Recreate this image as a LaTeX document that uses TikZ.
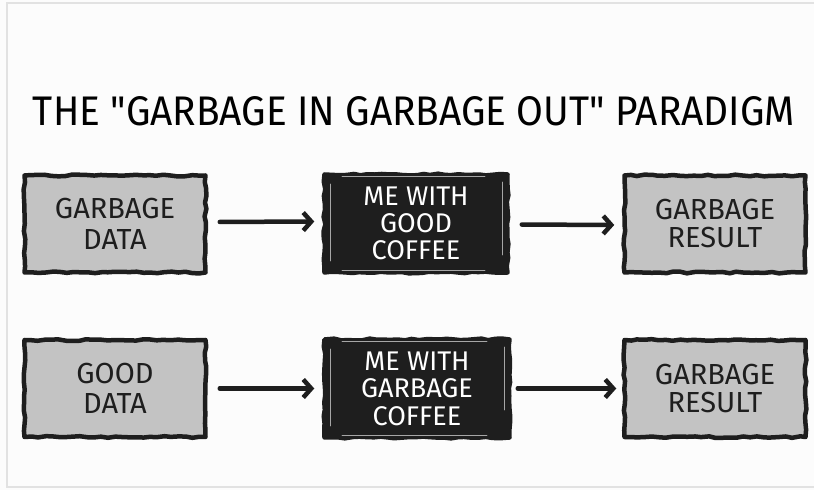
\documentclass[tikz,border=0pt]{standalone}
\usepackage{fontspec}
\setmainfont{Fira Sans}
\newfontfamily\titlefont{Fira Sans}[Ligatures=TeXOff]
\usetikzlibrary{arrows.meta,decorations.pathmorphing}
\definecolor{boxgray}{HTML}{C3C3C3}
\definecolor{ink}{HTML}{1E1E1E}
\definecolor{framegray}{HTML}{E2E2E2}
\tikzset{
  wobble/.style={decorate,decoration={random steps,segment length=7pt,amplitude=0.9pt}},
  databox/.style={draw=ink,fill=boxgray,line width=4.5pt,line join=round,wobble,
    minimum width=181pt,minimum height=97pt,inner sep=0pt,align=center,text=ink,
    font=\fontsize{29}{31}\selectfont},
  coffeebox/.style={draw=ink,fill=ink,line width=4.5pt,line join=round,wobble,
    minimum width=183pt,minimum height=98pt,inner sep=0pt,align=center,text=white,
    font=\fontsize{27}{27}\selectfont},
  flow/.style={draw=ink,line width=4.5pt,line cap=round,
    -{Straight Barb[length=8pt,width=18pt,line width=4.5pt]}},
  glint/.style={draw=gray!70,line width=1.2pt,line cap=round}
}
\begin{document}
\begin{tikzpicture}[x=1pt,y=1pt]
\useasboundingbox (0,0) rectangle (814,490);
\fill[white!98!gray] (0,0) rectangle (814,490);
\draw[framegray,line width=1.5pt] (814,487) -- (7,487) -- (7,3) -- (814,3);
\pgfmathsetseed{7}
\node (title) at (414,379) {\resizebox{762pt}{29pt}{\titlefont\fontsize{40}{40}\selectfont THE "GARBAGE IN GARBAGE OUT" PARADIGM}};
% row 1
\node[databox] (a1) at (115,266) {GARBAGE\\DATA};
\node[coffeebox] (b1) at (416,266.5) {ME WITH\\GOOD\\COFFEE};
\node[databox,font=\fontsize{29}{28}\selectfont] (c1) at (715,266) {GARBAGE\\RESULT};
% row 2
\node[databox,font=\fontsize{29}{30}\selectfont] (a2) at (115,101.5) {GOOD\\DATA};
\node[coffeebox,minimum width=185pt,font=\fontsize{27}{27.5}\selectfont] (b2) at (417,101.5) {ME WITH\\GARBAGE\\COFFEE};
\node[databox,font=\fontsize{29}{28}\selectfont] (c2) at (715,101.5) {GARBAGE\\RESULT};
% glints in the dark boxes
\draw[glint] ([xshift=8pt,yshift=-12pt]b1.north west) -- ([xshift=8pt,yshift=14pt]b1.south west);
\draw[glint] ([xshift=-7pt,yshift=-10pt]b1.north east) -- ([xshift=-7pt,yshift=20pt]b1.south east);
\draw[glint] ([xshift=20pt,yshift=-4pt]b1.north west) -- ([xshift=-25pt,yshift=-4pt]b1.north east);
\draw[glint] ([xshift=20pt,yshift=4pt]b1.south west) -- ([xshift=-25pt,yshift=4pt]b1.south east);
\draw[glint] ([xshift=8pt,yshift=-12pt]b2.north west) -- ([xshift=8pt,yshift=14pt]b2.south west);
\draw[glint] ([xshift=-7pt,yshift=-10pt]b2.north east) -- ([xshift=-7pt,yshift=30pt]b2.south east);
\draw[glint] ([xshift=20pt,yshift=-4pt]b2.north west) -- ([xshift=-25pt,yshift=-4pt]b2.north east);
\draw[glint] ([xshift=20pt,yshift=4pt]b2.south west) -- ([xshift=-25pt,yshift=4pt]b2.south east);
% arrows
\draw[flow,shorten <=12pt,shorten >=8pt] ([yshift=2pt]a1.east) -- ([yshift=2pt]b1.west);
\draw[flow,shorten <=12pt,shorten >=8pt] ([yshift=-1pt]b1.east) -- ([yshift=-1pt]c1.west);
\draw[flow,shorten <=12pt,shorten >=8pt] (a2.east) -- (b2.west);
\draw[flow,shorten <=6pt,shorten >=6pt] (b2.east) -- (c2.west);
\end{tikzpicture}
\end{document}
